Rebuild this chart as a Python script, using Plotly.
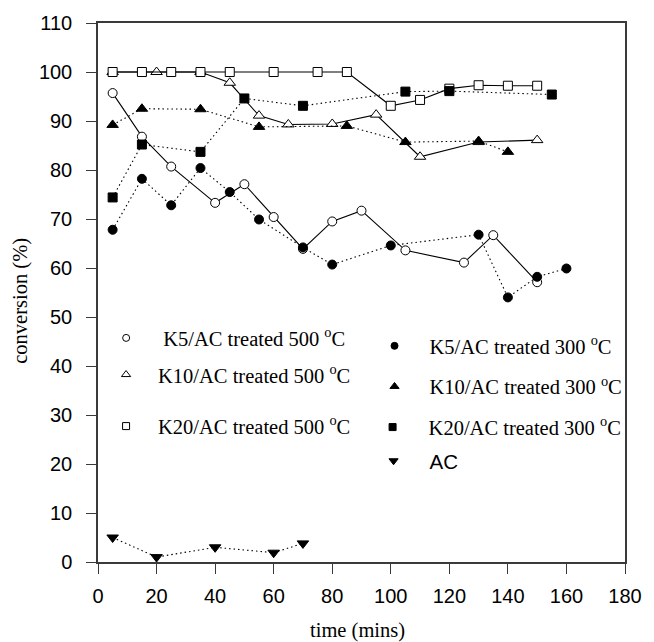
import plotly.graph_objects as go

# ---- data ----
k5_500_t = [5, 15, 25, 40, 50, 60, 70, 80, 90, 105, 125, 135, 150]
k5_500_y = [95.7, 86.8, 80.7, 73.3, 77.1, 70.4, 63.9, 69.5, 71.7, 63.6, 61.1, 66.7, 57.1]

k10_500_t = [5, 20, 35, 45, 55, 65, 80, 95, 110, 130, 150]
k10_500_y = [100, 100, 100, 97.8, 91.1, 89.3, 89.4, 91.3, 82.7, 85.7, 86.1]

k20_500_t = [5, 15, 25, 35, 45, 60, 75, 85, 100, 110, 120, 130, 140, 150]
k20_500_y = [100, 100, 100, 100, 100, 100, 100, 100, 93.1, 94.3, 96.6, 97.3, 97.2, 97.2]

k5_300_t = [5, 15, 25, 35, 45, 55, 70, 80, 100, 130, 140, 150, 160]
k5_300_y = [67.8, 78.2, 72.8, 80.4, 75.5, 69.9, 64.2, 60.7, 64.6, 66.8, 54.0, 58.2, 59.9]

k10_300_t = [5, 15, 35, 55, 85, 105, 130, 140]
k10_300_y = [89.2, 92.5, 92.4, 88.8, 89.0, 85.7, 85.9, 83.7]

k20_300_t = [5, 15, 35, 50, 70, 105, 120, 155]
k20_300_y = [74.4, 85.2, 83.7, 94.6, 93.1, 96.0, 96.1, 95.4]

ac_t = [5, 20, 40, 60, 70]
ac_y = [5.0, 1.0, 3.0, 1.9, 3.8]

x_ticks = [0, 20, 40, 60, 80, 100, 120, 140, 160, 180]
y_ticks = [0, 10, 20, 30, 40, 50, 60, 70, 80, 90, 100, 110]

labels = [
    "K5/AC treated 500 <sup>o</sup>C",
    "K10/AC treated 500 <sup>o</sup>C",
    "K20/AC treated 500 <sup>o</sup>C",
    "K5/AC treated 300 <sup>o</sup>C",
    "K10/AC treated 300 <sup>o</sup>C",
    "K20/AC treated 300 <sup>o</sup>C",
    "AC",
]

W, H = 654, 642
ML, MR, MT, MB = 98, 20, 18, 80
PW, PH = W - ML - MR, H - MT - MB

SERIF = "Liberation Serif, Times New Roman, serif"
SANS = "Liberation Sans, Arial, sans-serif"

series = [
    (k5_500_t, k5_500_y, "circle", "white", "solid"),
    (k10_500_t, k10_500_y, "triangle-up", "white", "solid"),
    (k20_500_t, k20_500_y, "square", "white", "solid"),
    (k5_300_t, k5_300_y, "circle", "black", "1.5px,3px"),
    (k10_300_t, k10_300_y, "triangle-up", "black", "1.5px,3px"),
    (k20_300_t, k20_300_y, "square", "black", "1.5px,3px"),
    (ac_t, ac_y, "triangle-down", "black", "1.5px,3px"),
]

# legend item placement: (marker x px, marker y px, item width, font family)
leg_pos = [
    (126, 336, 64, SERIF),
    (126, 373, 54, SERIF),
    (126, 425, 54, SERIF),
    (399, 344, 60, SERIF),
    (399, 385, 60, SERIF),
    (397, 426, 62, SERIF),
    (398, 460, 62, SANS),
]

fig = go.Figure()
for (t, y, sym, fill, dash) in series:
    fig.add_trace(go.Scatter(
        x=t, y=y, mode="lines+markers", showlegend=False,
        line=dict(color="black", width=1.1, dash=dash),
        marker=dict(symbol=sym, size=10 if "triangle" in sym else 9,
                    color=fill, line=dict(color="black", width=1)),
    ))

for i, ((t, y, sym, fill, dash), name) in enumerate(zip(series, labels)):
    lid = "legend" if i == 0 else f"legend{i+1}"
    fig.add_trace(go.Scatter(
        x=[None], y=[None], mode="markers", name=name, legend=lid,
        marker=dict(symbol=sym, size=7 if "triangle" not in sym else 8,
                    color=fill, line=dict(color="black", width=1)),
    ))

legends = {}
for i, (mx, my, iw, fam) in enumerate(leg_pos):
    lid = "legend" if i == 0 else f"legend{i+1}"
    left_px = mx - (iw + 10) / 2
    legends[lid] = dict(
        x=(left_px - ML) / PW, y=(H - MB - my) / PH,
        xanchor="left", yanchor="middle",
        bgcolor="rgba(0,0,0,0)", borderwidth=0,
        itemwidth=iw, font=dict(family=fam, size=20.5, color="black"),
    )

axis_common = dict(
    showline=True, mirror=True, linecolor="#3a3a3a", linewidth=1.5,
    ticks="outside", ticklen=10, tickwidth=1.3, tickcolor="#3a3a3a",
    showgrid=False, zeroline=False,
    tickfont=dict(family=SANS, size=20, color="black"),
)

fig.update_layout(
    width=W, height=H,
    margin=dict(l=ML, r=MR, t=MT, b=MB),
    paper_bgcolor="white", plot_bgcolor="white",
    xaxis=dict(range=[0, 180], tickvals=x_ticks, ticklabelstandoff=5, **axis_common),
    yaxis=dict(range=[0, 110], tickvals=y_ticks, ticklabelstandoff=10, **axis_common),
    annotations=[
        dict(text="time (mins)", xref="paper", yref="paper",
             x=(362 - ML) / PW, y=(H - MB - 631) / PH, xanchor="center", yanchor="middle",
             showarrow=False, font=dict(family=SERIF, size=20.5, color="black")),
        dict(text="conversion (%)", xref="paper", yref="paper", textangle=-90,
             x=(19 - ML) / PW, y=(H - MB - 298) / PH, xanchor="center", yanchor="middle",
             showarrow=False, font=dict(family=SERIF, size=20.5, color="black")),
    ],
    **legends,
)

fig.write_html("out.html")
